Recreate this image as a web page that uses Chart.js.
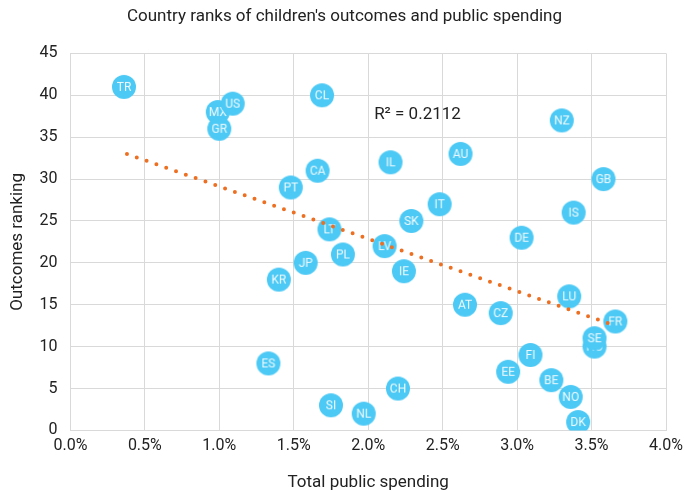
<!DOCTYPE html>
<html>
<head>
<meta charset="utf-8">
<script src="https://cdn.jsdelivr.net/npm/chart.js@4.4.1/dist/chart.umd.min.js"></script>
<style>
    html, body { margin: 0; padding: 0; background: #fff; }
    #wrap { width: 685px; height: 491px; }
</style>
</head>
<body>
<div id="wrap"><canvas id="scatter"></canvas></div>
<script>
// country codes, public spending (% of GDP) and outcome rank
const countries = ['TR', 'CL', 'MX', 'US', 'GR', 'NZ', 'AU', 'IL', 'CA', 'GB', 'PT', 'IT', 'IS', 'SK', 'LT', 'DE',
    'LV', 'PL', 'JP', 'IE', 'KR', 'LU', 'AT', 'CZ', 'FR', 'HU', 'SE', 'FI', 'ES', 'EE', 'BE', 'CH', 'NO', 'SI', 'NL', 'DK'];
const spending = [0.36, 1.69, 0.99, 1.09, 1.00, 3.30, 2.62, 2.15, 1.66, 3.58, 1.48, 2.48, 3.38, 2.29, 1.74, 3.03,
    2.11, 1.83, 1.58, 2.24, 1.40, 3.35, 2.65, 2.89, 3.66, 3.52, 3.52, 3.09, 1.33, 2.94, 3.23, 2.20, 3.36, 1.75, 1.97, 3.41];
const ranking = [41, 40, 38, 39, 36, 37, 33, 32, 31, 30, 29, 27, 26, 25, 24, 23,
    22, 21, 20, 19, 18, 16, 15, 14, 13, 10, 11, 9, 8, 7, 6, 5, 4, 3, 2, 1];

// trend line ends as drawn in the picture
const trendX = [0.38, 3.61];
const trendY = [33.0, 12.8];
const rSquared = 'R² = 0.2112';

const xTicks = [0, 0.5, 1, 1.5, 2, 2.5, 3, 3.5, 4];

const FONT = 'Roboto, "Liberation Sans", sans-serif';
const BUBBLE = 'rgb(76, 201, 245)';
const gridColor = '#d9d9d9';

// each bubble is its own little canvas so later bubbles cover earlier labels
const makeBubble = (label) => {
    const c = document.createElement('canvas');
    c.width = 26;
    c.height = 26;
    const g = c.getContext('2d');
    g.fillStyle = BUBBLE;
    g.beginPath();
    g.arc(13, 13, 12, 0, Math.PI * 2);
    g.fill();
    g.fillStyle = 'rgba(255,255,255,0.92)';
    g.font = '12px ' + FONT;
    g.textAlign = 'center';
    g.textBaseline = 'middle';
    g.fillText(label, 13, 13.5);
    return c;
};
const bubbles = countries.map((c) => makeBubble(c));

const pointsData = countries.map((c, i) => ({x: spending[i], y: ranking[i]}));
const trendData = trendX.map((x, i) => ({x: x, y: trendY[i]}));

const rSquaredLabel = {
    id: 'rSquaredLabel',
    afterDatasetsDraw(chart) {
        const {ctx, scales} = chart;
        ctx.save();
        ctx.fillStyle = '#222';
        ctx.font = '17px ' + FONT;
        ctx.textBaseline = 'middle';
        ctx.fillText(rSquared, scales.x.getPixelForValue(2.04), scales.y.getPixelForValue(37.7));
        ctx.restore();
    }
};

const ctx = document.getElementById('scatter');
new Chart(ctx, {
    type: 'scatter',
    data: {
        datasets: [{
            label: 'Trend',
            type: 'line',
            data: trendData,
            borderColor: 'rgb(237, 112, 34)',
            borderWidth: 4,
            borderDash: [0, 10.4],
            borderCapStyle: 'round',
            pointRadius: 0,
            fill: false,
            order: 0
        },
            {
                label: 'Countries',
                data: pointsData,
                pointStyle: (c) => bubbles[c.dataIndex],
                pointRadius: 12,
                pointHoverRadius: 12,
                order: 1
            }]
    },
    options: {
        responsive: true,
        maintainAspectRatio: false,
        animation: false,
        layout: {padding: {left: 4, right: 0, top: 4, bottom: 0}},
        plugins: {
            legend: {display: false},
            tooltip: {enabled: false},
            title: {
                display: true,
                text: "Country ranks of children's outcomes and public spending",
                color: '#222',
                font: {family: FONT, size: 17, weight: 'normal'},
                padding: {top: 3, bottom: 26}
            }
        },
        scales: {
            x: {
                type: 'linear',
                min: 0,
                max: 4,
                afterBuildTicks: (axis) => {
                    axis.ticks = xTicks.map((v) => ({value: v}));
                },
                afterFit: (axis) => {
                    axis.paddingRight = 19;
                },
                ticks: {
                    color: '#222',
                    font: {family: FONT, size: 16},
                    padding: 6,
                    maxRotation: 0,
                    callback: (v) => v.toFixed(1) + '%'
                },
                grid: {color: gridColor, drawTicks: false},
                border: {color: gridColor},
                title: {
                    display: true,
                    text: 'Total public spending',
                    color: '#222',
                    font: {family: FONT, size: 17},
                    padding: {top: 11, bottom: -2}
                }
            },
            y: {
                min: 0,
                max: 45,
                ticks: {
                    stepSize: 5,
                    color: '#222',
                    font: {family: FONT, size: 16},
                    padding: 13
                },
                grid: {color: gridColor, drawTicks: false},
                border: {color: gridColor},
                title: {
                    display: true,
                    text: 'Outcomes ranking',
                    color: '#222',
                    font: {family: FONT, size: 17},
                    padding: {top: 4, bottom: -2}
                }
            }
        }
    },
    plugins: [rSquaredLabel]
});
</script>
</body>
</html>
